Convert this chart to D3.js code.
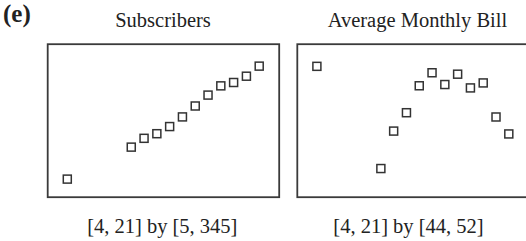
<!DOCTYPE html>
<html>
<head>
<meta charset="utf-8">
<script src="https://cdn.jsdelivr.net/npm/d3@7"></script>
<style>
  body { margin: 0; background: #fff; }
  svg { display: block; }
  text { font-family: "Liberation Serif", "Times New Roman", serif; fill: #222; }
</style>
</head>
<body>
<div id="chart"></div>
<script>
var W = 526, H = 241;

// years since 1990
var years = [5, 10, 11, 12, 13, 14, 15, 16, 17, 18, 19, 20];
// subscribers (millions)
var subscribers = [33.8, 110, 131, 142, 159, 182, 208, 234, 256, 264, 279, 303];
// average monthly bill (dollars)
var bill = [51.00, 45.27, 47.37, 48.40, 49.91, 50.64, 49.98, 50.56, 49.79, 50.07, 48.16, 47.21];

var xWindow = [4, 21];
var subWindow = [5, 345];
var billWindow = [44, 52];

var titles = ['Subscribers', 'Average Monthly Bill'];
var windowLabels = ['[4, 21] by [5, 345]', '[4, 21] by [44, 52]'];

var svg = d3.select('#chart')
  .append('svg')
  .attr('width', W)
  .attr('height', H);

svg.append('text')
  .attr('x', 3)
  .attr('y', 22)
  .attr('font-size', 25)
  .attr('font-weight', 'bold')
  .attr('fill', '#111')
  .text('(e)');

var panels = [
  { fx: 47.7, values: subscribers, yDomain: subWindow, title: titles[0], label: windowLabels[0], tx: 163, lx: 162.3 },
  { fx: 297.3, values: bill, yDomain: billWindow, title: titles[1], label: windowLabels[1], tx: 417.4, lx: 408.5 }
];

var fy = 44.2, fw = 231.5, fh = 153;
var sq = 8;

panels.forEach(function(p) {
  var g = svg.append('g');

  var x = d3.scaleLinear().domain(xWindow).range([p.fx + 6.8, p.fx + fw - 7.2]);
  var y = d3.scaleLinear().domain(p.yDomain).range([191.2, 48.5]);

  g.append('text')
    .attr('x', p.tx)
    .attr('y', 26.7)
    .attr('text-anchor', 'middle')
    .attr('font-size', 20.5)
    .text(p.title);

  g.append('rect')
    .attr('x', p.fx)
    .attr('y', fy)
    .attr('width', fw)
    .attr('height', fh)
    .attr('fill', 'none')
    .attr('stroke', '#3a3a3a')
    .attr('stroke-width', 1.8);

  g.selectAll('rect.pt')
    .data(years)
    .enter()
    .append('rect')
    .attr('class', 'pt')
    .attr('x', function(d) { return x(d) - sq / 2; })
    .attr('y', function(d, i) { return y(p.values[i]) - sq / 2; })
    .attr('width', sq)
    .attr('height', sq)
    .attr('fill', 'none')
    .attr('stroke', '#333')
    .attr('stroke-width', 1.5);

  g.append('text')
    .attr('x', p.lx)
    .attr('y', 233)
    .attr('text-anchor', 'middle')
    .attr('font-size', 20.5)
    .text(p.label);
});
</script>
</body>
</html>
